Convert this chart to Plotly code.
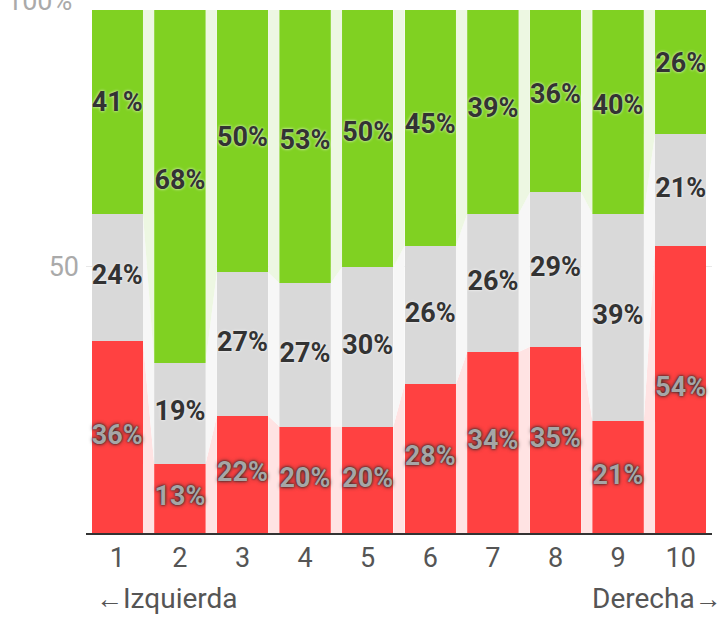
import plotly.graph_objects as go

# Escala ideológica (1 = izquierda, 10 = derecha)
categorias = [1, 2, 3, 4, 5, 6, 7, 8, 9, 10]
etiquetas_x = ["1", "2", "3", "4", "5", "6", "7", "8", "9", "10"]

# Porcentajes por posición, de abajo hacia arriba
serie_roja = [36, 13, 22, 20, 20, 28, 34, 35, 21, 54]
serie_gris = [24, 19, 27, 27, 30, 26, 26, 29, 39, 21]
serie_verde = [41, 68, 50, 53, 50, 45, 39, 36, 40, 26]

ROJO, GRIS, VERDE = "#ff4141", "#d9d9d9", "#80d122"
ROJO_SUAVE, GRIS_SUAVE, VERDE_SUAVE = "#ffe3e3", "#f7f7f7", "#edf7e2"
ANCHO = 0.82

capas = [
    (serie_roja, ROJO, ROJO_SUAVE),
    (serie_gris, GRIS, GRIS_SUAVE),
    (serie_verde, VERDE, VERDE_SUAVE),
]

fig = go.Figure()

# Bases acumuladas de cada capa
bases = []
acum = [0] * len(categorias)
for valores, _, _ in capas:
    bases.append(list(acum))
    acum = [a + v for a, v in zip(acum, valores)]

# Franjas suaves que unen cada barra con la siguiente
for (valores, _, suave), base in zip(capas, bases):
    tope = [b + v for b, v in zip(base, valores)]
    for i in range(len(categorias) - 1):
        xd = categorias[i] + ANCHO / 2
        xi = categorias[i + 1] - ANCHO / 2
        fig.add_trace(go.Scatter(
            x=[xd, xd, xi, xi, xd],
            y=[base[i], tope[i], tope[i + 1], base[i + 1], base[i]],
            mode="lines", fill="toself", fillcolor=suave,
            line=dict(width=0), hoverinfo="skip", showlegend=False,
        ))

# Barras apiladas
for (valores, color, _), base in zip(capas, bases):
    fig.add_trace(go.Bar(
        x=categorias, y=valores, base=base, width=ANCHO,
        marker=dict(color=color, line=dict(width=0)),
        showlegend=False, hoverinfo="skip",
    ))

# Etiquetas de porcentaje en el centro de cada segmento
for k, ((valores, _, _), base) in enumerate(zip(capas, bases)):
    if k == 0:
        fuente = dict(family="Roboto", size=27, weight=700, color="#a6a6a6",
                      shadow="0px 0px 4px #2a2a2a, 0px 0px 2px #2a2a2a")
    else:
        fuente = dict(family="Roboto", size=27, weight=700, color="#333333",
                      shadow="0px 0px 3px rgba(255,255,255,0.9)")
    fig.add_trace(go.Scatter(
        x=categorias,
        y=[b + v / 2 for b, v in zip(base, valores)],
        mode="text",
        text=[f"{v}%" for v in valores],
        textposition="middle center",
        textfont=fuente,
        showlegend=False, hoverinfo="skip", cliponaxis=False,
    ))

Y_MAX = 98.3

fig.update_layout(
    width=724, height=619,
    margin=dict(l=86, r=12, t=10, b=86),
    paper_bgcolor="white", plot_bgcolor="white",
    barmode="overlay", bargap=0,
    xaxis=dict(
        range=[0.5, 10.5], tickvals=categorias, ticktext=etiquetas_x,
        showgrid=False, zeroline=False,
        showline=True, linecolor="#333333", linewidth=2,
        ticks="", tickfont=dict(family="Roboto", size=27, color="#555555"),
        fixedrange=True,
    ),
    yaxis=dict(
        range=[0, Y_MAX], tickvals=[50], ticktext=["50"],
        showgrid=True, gridcolor="#e8e8e8", gridwidth=1,
        zeroline=False, showline=False, ticks="",
        ticklabelstandoff=6,
        tickfont=dict(family="Roboto", size=27, color="#aaaaaa"),
        fixedrange=True,
    ),
    annotations=[
        dict(xref="paper", yref="paper", x=0, y=100 / Y_MAX, xanchor="right",
             yanchor="middle", xshift=-12, text="100%", showarrow=False,
             font=dict(family="Roboto", size=27, color="#aaaaaa")),
        dict(xref="paper", yref="paper", x=0, y=0, xanchor="left",
             yanchor="middle", xshift=8, yshift=-65,
             text="<span style='font-size:27px'>←</span>Izquierda",
             showarrow=False,
             font=dict(family="Roboto", size=28, color="#555555")),
        dict(xref="paper", yref="paper", x=1, y=0, xanchor="right",
             yanchor="middle", xshift=12, yshift=-65,
             text="Derecha<span style='font-size:27px'>→</span>",
             showarrow=False,
             font=dict(family="Roboto", size=28, color="#555555")),
    ],
)

fig.write_html("out.html")
